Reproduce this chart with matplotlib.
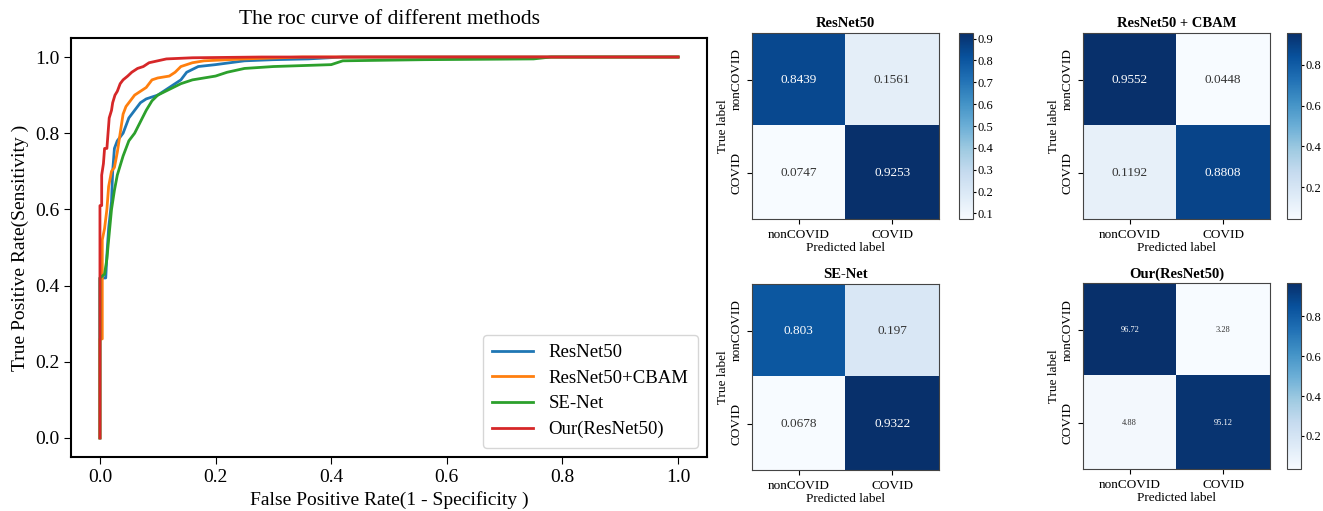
import numpy as np
import matplotlib.pyplot as plt

plt.rcParams['font.family'] = ['Liberation Serif', 'DejaVu Serif']

# ROC curves
roc_names = ['ResNet50', 'ResNet50+CBAM', 'SE-Net', 'Our(ResNet50)']
roc_colors = ['#1f77b4', '#ff7f0e', '#2ca02c', '#d62728']

fpr_resnet = [0, 0, 0.01, 0.012, 0.015, 0.02, 0.022, 0.025, 0.03, 0.04, 0.045, 0.05, 0.06, 0.07,
              0.08, 0.1, 0.12, 0.14, 0.15, 0.17, 0.2, 0.25, 0.3, 0.36, 0.42, 1.0]
tpr_resnet = [0, 0.42, 0.42, 0.48, 0.55, 0.62, 0.7, 0.76, 0.78, 0.8, 0.82, 0.84, 0.86, 0.88,
              0.89, 0.9, 0.92, 0.94, 0.96, 0.975, 0.98, 0.99, 0.993, 0.995, 1.0, 1.0]

fpr_cbam = [0, 0, 0.004, 0.004, 0.008, 0.012, 0.015, 0.02, 0.025, 0.03, 0.035, 0.04, 0.045, 0.05,
            0.06, 0.07, 0.08, 0.09, 0.1, 0.12, 0.13, 0.14, 0.16, 0.18, 0.25, 0.35, 1.0]
tpr_cbam = [0, 0.26, 0.26, 0.52, 0.55, 0.6, 0.66, 0.7, 0.71, 0.75, 0.8, 0.85, 0.87, 0.88,
            0.9, 0.91, 0.92, 0.94, 0.945, 0.95, 0.96, 0.975, 0.985, 0.99, 0.995, 1.0, 1.0]

fpr_senet = [0, 0, 0.008, 0.012, 0.015, 0.02, 0.025, 0.03, 0.04, 0.05, 0.06, 0.07, 0.08, 0.09, 0.1,
             0.12, 0.14, 0.16, 0.2, 0.22, 0.25, 0.3, 0.4, 0.42, 0.56, 0.75, 0.78, 1.0]
tpr_senet = [0, 0.42, 0.43, 0.47, 0.52, 0.6, 0.65, 0.69, 0.74, 0.78, 0.8, 0.83, 0.86, 0.885, 0.9,
             0.915, 0.93, 0.94, 0.95, 0.96, 0.97, 0.975, 0.98, 0.99, 0.993, 0.995, 1.0, 1.0]

fpr_ours = [0, 0, 0.003, 0.003, 0.006, 0.008, 0.012, 0.014, 0.016, 0.02, 0.022, 0.026, 0.03, 0.035,
            0.04, 0.048, 0.055, 0.065, 0.075, 0.085, 0.1, 0.115, 0.16, 0.28, 1.0]
tpr_ours = [0, 0.61, 0.61, 0.69, 0.72, 0.76, 0.76, 0.8, 0.84, 0.86, 0.88, 0.9, 0.91, 0.93,
            0.94, 0.95, 0.96, 0.97, 0.975, 0.985, 0.99, 0.995, 0.998, 1.0, 1.0]

roc_fpr = [fpr_resnet, fpr_cbam, fpr_senet, fpr_ours]
roc_tpr = [tpr_resnet, tpr_cbam, tpr_senet, tpr_ours]

# confusion matrices
class_labels = ['nonCOVID', 'COVID']
cm_titles = ['ResNet50', 'ResNet50 + CBAM', 'SE-Net', 'Our(ResNet50)']
cm_resnet = [[0.8439, 0.1561], [0.0747, 0.9253]]
cm_cbam = [[0.9552, 0.0448], [0.1192, 0.8808]]
cm_senet = [[0.803, 0.197], [0.0678, 0.9322]]
cm_ours = [[0.9672, 0.0328], [0.0488, 0.9512]]
cm_text_ours = [['96.72', '3.28'], ['4.88', '95.12']]

fig = plt.figure(figsize=(13.23, 5.11), dpi=100)

# ROC plot
ax = fig.add_axes([0.0537, 0.1057, 0.4807, 0.82])
for fpr, tpr, name, col in zip(roc_fpr, roc_tpr, roc_names, roc_colors):
    ax.plot(fpr, tpr, color=col, lw=2, label=name)
ax.set_xlim(-0.05, 1.05)
ax.set_ylim(-0.05, 1.05)
ax.set_xticks([0, 0.2, 0.4, 0.6, 0.8, 1.0])
ax.set_yticks([0, 0.2, 0.4, 0.6, 0.8, 1.0])
ax.tick_params(labelsize=14, length=5)
ax.set_xlabel('False Positive Rate(1 - Specificity )', fontsize=14)
ax.set_ylabel('True Positive Rate(Sensitivity )', fontsize=14)
ax.set_title('The roc curve of different methods', fontsize=15.5, pad=10)
ax.legend(loc='lower right', fontsize=13.5, handlelength=2.2, borderpad=0.5, labelspacing=0.45)
for s in ax.spines.values():
    s.set_linewidth(1.5)

# confusion matrix panels
cm_pos = [[0.5684, 0.5714], [0.8186, 0.5714], [0.5684, 0.0802], [0.8186, 0.082]]
cb_left = [0.7249, 0.9725, None, 0.9725]
cm_ticks = [[0.1, 0.2, 0.3, 0.4, 0.5, 0.6, 0.7, 0.8, 0.9], [0.2, 0.4, 0.6, 0.8], None, [0.2, 0.4, 0.6, 0.8]]
cms = [cm_resnet, cm_cbam, cm_senet, cm_ours]

for i, cm in enumerate(cms):
    cm = np.array(cm)
    pos = cm_pos[i]
    cax_ = fig.add_axes([pos[0], pos[1], 0.1413, 0.364])
    im = cax_.imshow(cm, cmap='Blues', aspect='auto')
    thresh = (cm.max() + cm.min()) / 2
    for r in range(2):
        for c in range(2):
            if i == 3:
                txt = cm_text_ours[r][c]
                fs = 6
            else:
                txt = str(cm[r, c])
                fs = 9.5
            cax_.text(c, r, txt, ha='center', va='center', fontsize=fs,
                      color='white' if cm[r, c] > thresh else '#333333')
    cax_.set_xticks([0, 1])
    cax_.set_xticklabels(class_labels, fontsize=9.5)
    cax_.set_yticks([0, 1])
    cax_.set_yticklabels(class_labels, fontsize=9.5, rotation=90, va='center')
    cax_.set_xlabel('Predicted label', fontsize=9.5, labelpad=1)
    cax_.set_ylabel('True label', fontsize=9.5, labelpad=1)
    cax_.set_title(cm_titles[i], fontsize=10.5, fontweight='bold', pad=4)
    for s in cax_.spines.values():
        s.set_color('#444444')
    if cb_left[i] is not None:
        cbax = fig.add_axes([cb_left[i], pos[1], 0.0106, 0.364])
        cb = fig.colorbar(im, cax=cbax, ticks=cm_ticks[i])
        cb.ax.tick_params(labelsize=9, length=2.5, pad=1)
        cb.outline.set_edgecolor('#444444')

plt.savefig('out.png', dpi=100)
